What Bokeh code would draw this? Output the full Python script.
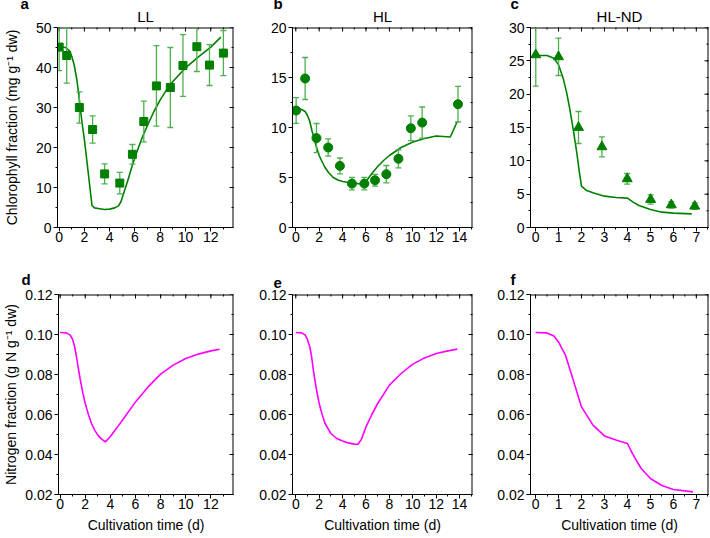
import math
import numpy as np
from bokeh.plotting import figure
from bokeh.models import Range1d, SingleIntervalTicker, PrintfTickFormatter, Title
from bokeh.layouts import column, row
from bokeh.embed import file_html
from bokeh.resources import INLINE

FONT = "Liberation Sans"
GREEN = "#008000"
ERR = "#4fb04f"
MAGENTA = "#ff00ff"

# ---------------- data: chlorophyll (measured) ----------------
ll_x = [0, 0.6, 1.6, 2.65, 3.6, 4.8, 5.8, 6.7, 7.7, 8.8, 9.8, 10.9, 11.9, 13.0]
ll_y = [45.1, 43.0, 30.0, 24.5, 13.4, 11.1, 18.3, 26.5, 35.4, 35.0, 40.5, 45.2, 40.6, 43.6]
ll_sd = [5.9, 6.9, 3.9, 3.4, 2.5, 2.7, 2.45, 5.1, 10.05, 10.0, 7.7, 6.2, 5.1, 5.65]

hl_x = [0.03, 0.8, 1.77, 2.77, 3.77, 4.8, 5.86, 6.77, 7.74, 8.77, 9.83, 10.8, 13.86]
hl_y = [11.7, 14.9, 8.94, 8.0, 6.16, 4.39, 4.39, 4.72, 5.33, 6.87, 9.92, 10.49, 12.33]
hl_sd = [1.28, 2.1, 1.46, 0.87, 0.79, 0.63, 0.62, 0.59, 0.87, 0.9, 1.24, 1.56, 1.78]

nd_x = [0.01, 1.0, 1.87, 2.89, 3.99, 5.01, 5.91, 6.93]
nd_y = [25.9, 25.6, 15.0, 12.1, 7.3, 4.2, 3.4, 3.2]
nd_sd = [4.7, 2.8, 2.4, 1.5, 0.8, 0.68, 0.48, 0.48]

# ---------------- data: chlorophyll (model) ----------------
ll_mx = [0, 0.5, 0.8, 1.0, 1.2, 1.4, 1.6, 1.8, 2.0, 2.2, 2.4, 2.6, 2.8, 3.2, 3.6, 4.0, 4.4,
         4.7, 4.9, 5.1, 5.4, 5.8, 6.2, 6.6, 7.0, 7.5, 8.0, 8.5, 9.0, 10.0, 11.0, 12.0, 12.8]
ll_my = [45.2, 45.0, 44.2, 42.8, 40.5, 37.0, 31.9, 26.5, 21.9, 16.5, 11.0, 5.5, 4.9, 4.7, 4.5,
         4.6, 4.9, 5.4, 6.5, 8.5, 11.4, 15.6, 19.3, 22.7, 25.6, 29.0, 31.9, 34.4, 36.5, 39.9,
         42.6, 45.1, 47.6]

hl_mx = [0, 0.5, 0.8, 1.0, 1.2, 1.4, 1.6, 1.8, 2.0, 2.2, 2.5, 2.8, 3.2, 3.6, 4.0, 4.5, 5.0,
         5.5, 5.8, 6.0, 6.5, 7.0, 7.5, 8.0, 9.0, 10.0, 11.0, 12.0, 13.2, 13.8]
hl_my = [11.9, 11.8, 11.6, 11.2, 10.6, 9.6, 8.8, 7.9, 7.2, 6.7, 6.0, 5.5, 5.0, 4.75, 4.6, 4.5,
         4.45, 4.35, 4.4, 4.6, 5.4, 6.1, 6.7, 7.2, 8.0, 8.55, 8.9, 9.15, 9.05, 10.6]

nd_mx = [0, 0.5, 0.8, 1.0, 1.2, 1.35, 1.5, 1.65, 1.8, 1.9, 2.0, 2.2, 2.5, 3.0, 3.5, 4.0, 4.25,
         4.5, 5.0, 5.5, 6.0, 6.8]
nd_my = [25.8, 25.8, 25.4, 24.4, 22.4, 20.3, 17.6, 14.5, 11.1, 8.5, 6.2, 5.6, 5.2, 4.7, 4.5,
         4.4, 3.8, 3.3, 2.7, 2.3, 2.15, 2.05]

# ---------------- data: nitrogen (model) ----------------
nl_x = [0, 0.5, 0.8, 1.0, 1.15, 1.3, 1.45, 1.6, 1.8, 2.0, 2.25, 2.5, 2.75, 3.0, 3.3, 3.6, 4.0,
        4.5, 5.0, 6.0, 7.0, 8.0, 9.0, 10.0, 11.0, 12.0, 12.7]
nl_y = [0.1010, 0.1008, 0.0997, 0.0975, 0.0940, 0.0890, 0.0830, 0.0775, 0.0710, 0.0655, 0.0600,
        0.0555, 0.0522, 0.0497, 0.0477, 0.0463, 0.0490, 0.0532, 0.0575, 0.0663, 0.0738, 0.0802,
        0.0847, 0.0880, 0.0902, 0.0918, 0.0926]

nh_x = [0, 0.5, 0.8, 1.0, 1.2, 1.35, 1.5, 1.75, 2.0, 2.25, 2.5, 3.0, 3.5, 4.0, 4.5, 5.0, 5.3,
        5.6, 6.0, 6.5, 7.0, 8.0, 9.0, 10.0, 11.0, 12.0, 13.0, 13.8]
nh_y = [0.1010, 0.1008, 0.0998, 0.0975, 0.0938, 0.0890, 0.0822, 0.0730, 0.0655, 0.0600, 0.0555,
        0.0505, 0.0480, 0.0467, 0.0458, 0.0452, 0.0450, 0.0475, 0.0538, 0.0600, 0.0655, 0.0747,
        0.0805, 0.0852, 0.0883, 0.0905, 0.0918, 0.0927]

nn_x = [0, 0.5, 0.8, 1.0, 1.3, 1.6, 2.0, 2.5, 3.0, 3.5, 4.0, 4.15, 4.3, 4.6, 5.0, 5.5, 6.0, 6.85]
nn_y = [0.1010, 0.1008, 0.0992, 0.0963, 0.0897, 0.0788, 0.0638, 0.0547, 0.0493, 0.0472, 0.0455,
        0.0420, 0.0388, 0.0330, 0.0280, 0.0245, 0.0225, 0.0213]

titles = ["LL", "HL", "HL-ND"]
letters_top = ["a", "b", "c"]
letters_bottom = ["d", "e", "f"]
chl_label = "Chlorophyll fraction (mg g\u207b\u00b9 dw)"
nit_label = "Nitrogen fraction (g N g\u207b\u00b9 dw)"
x_label = "Cultivation time (d)"

# ---------------- layout geometry ----------------
XR = [(-0.13, 13.8), (-0.28, 15.1), (-0.22, 7.53)]
XTICK = [2, 2, 1]
COLS = [  # (width, left border, right border)
    (243, 57, 10),
    (239, 49, 10),
    (228, 48, 2),
]
LETTER_OFF = [-37, -19, -20]
TOP_H, TOP_T, TOP_B = 260, 27, 33
BOT_H, BOT_T, BOT_B = 278, 34, 44


def tick_positions(lo, hi, step):
    start = math.ceil(lo / step - 1e-9) * step
    return list(np.arange(start, hi + step * 1e-6, step))


def make_fig(col, top_row, yr, yint, yfmt):
    w, bl, br = COLS[col]
    h, bt, bb = (TOP_H, TOP_T, TOP_B) if top_row else (BOT_H, BOT_T, BOT_B)
    letter = letters_top[col] if top_row else letters_bottom[col]
    p = figure(width=w, height=h, x_range=Range1d(*XR[col]), y_range=Range1d(*yr),
               output_backend="svg", toolbar_location=None, title=letter,
               min_border_left=bl, min_border_right=br, min_border_top=bt, min_border_bottom=bb)
    # panel letter (main title, outermost)
    p.title.text_font = FONT
    p.title.text_font_size = "15px"
    p.title.text_font_style = "bold"
    p.title.text_color = "black"
    p.title.align = "left"
    p.title.offset = LETTER_OFF[col]
    if top_row:
        try:
            p.title.standoff = -17
        except Exception:
            p.title.standoff = 0
        p.add_layout(Title(text=titles[col], align="center", text_font=FONT,
                           text_font_size="15px", text_font_style="normal",
                           text_color="black", standoff=5), "above")
    else:
        p.title.standoff = 13

    p.xgrid.visible = False
    p.ygrid.visible = False
    p.outline_line_color = None
    p.background_fill_color = "white"
    p.border_fill_color = "white"

    xa = p.below[0]
    ya = p.left[0]
    xa.ticker = SingleIntervalTicker(interval=XTICK[col], num_minor_ticks=2)
    ya.ticker = SingleIntervalTicker(interval=yint, num_minor_ticks=2)
    if yfmt:
        ya.formatter = PrintfTickFormatter(format=yfmt)
    for ax in (xa, ya):
        ax.major_tick_out = 4
        ax.major_tick_in = 0
        ax.minor_tick_out = 2
        ax.minor_tick_in = 0
        ax.axis_line_color = "black"
        ax.major_tick_line_color = "black"
        ax.minor_tick_line_color = "black"
        ax.major_label_text_font = FONT
        ax.major_label_text_font_size = "14px"
        ax.major_label_text_color = "black"
        ax.axis_label_text_font = FONT
        ax.axis_label_text_font_size = "14px"
        ax.axis_label_text_font_style = "normal"
        ax.axis_label_text_color = "black"
    xa.major_label_standoff = 0
    xa.axis_label_standoff = 5
    ya.major_label_standoff = 2
    ya.axis_label_standoff = 13 if top_row else 3

    # mirrored frame edges and inward ticks on the top and right sides
    x0, x1 = XR[col]
    y0, y1 = yr
    p.segment(x0=[x0], y0=[y1], x1=[x1], y1=[y1], line_color="black", line_width=2)
    p.segment(x0=[x1], y0=[y0], x1=[x1], y1=[y1], line_color="black", line_width=2)
    xmin = tick_positions(x0, x1, XTICK[col] / 2)
    xmaj = tick_positions(x0, x1, XTICK[col])
    ymin = tick_positions(y0, y1, yint / 2)
    ymaj = tick_positions(y0, y1, yint)
    p.scatter(xmin, [y1] * len(xmin), marker="dash", angle=math.pi / 2, size=4,
              line_color="black", line_width=1)
    p.scatter(xmaj, [y1] * len(xmaj), marker="dash", angle=math.pi / 2, size=8,
              line_color="black", line_width=1)
    p.scatter([x1] * len(ymin), ymin, marker="dash", size=4, line_color="black", line_width=1)
    p.scatter([x1] * len(ymaj), ymaj, marker="dash", size=8, line_color="black", line_width=1)
    return p, xa, ya


top_data = [
    (ll_x, ll_y, ll_sd, ll_mx, ll_my, "square", 8, (0, 50), 10),
    (hl_x, hl_y, hl_sd, hl_mx, hl_my, "circle", 9, (0, 20), 5),
    (nd_x, nd_y, nd_sd, nd_mx, nd_my, "triangle", 10, (0, 30), 5),
]
bot_data = [(nl_x, nl_y), (nh_x, nh_y), (nn_x, nn_y)]

top_figs = []
for i, (x, y, sd, mx, my, marker, size, yr, yint) in enumerate(top_data):
    p, xa, ya = make_fig(i, True, yr, yint, None)
    lo = [a - b for a, b in zip(y, sd)]
    hi = [a + b for a, b in zip(y, sd)]
    p.line(mx, my, line_color=GREEN, line_width=1.6)
    p.segment(x0=x, y0=lo, x1=x, y1=hi, line_color=ERR, line_width=1.3)
    p.scatter(x, lo, marker="dash", size=6, line_color=ERR, line_width=1.3)
    p.scatter(x, hi, marker="dash", size=6, line_color=ERR, line_width=1.3)
    p.scatter(x, y, marker=marker, size=size, fill_color=GREEN, line_color=GREEN)
    if i == 0:
        ya.axis_label = chl_label
    top_figs.append(p)

bot_figs = []
for i, (x, y) in enumerate(bot_data):
    yr = (0.02, 0.12)
    p, xa, ya = make_fig(i, False, yr, 0.02, "%.2f")
    p.line(x, y, line_color=MAGENTA, line_width=1.6)
    xa.axis_label = x_label
    if i == 0:
        ya.axis_label = nit_label
    bot_figs.append(p)

layout = column(row(*top_figs, spacing=0), row(*bot_figs, spacing=0), spacing=0)
open("out.html", "w").write(file_html(layout, INLINE))
